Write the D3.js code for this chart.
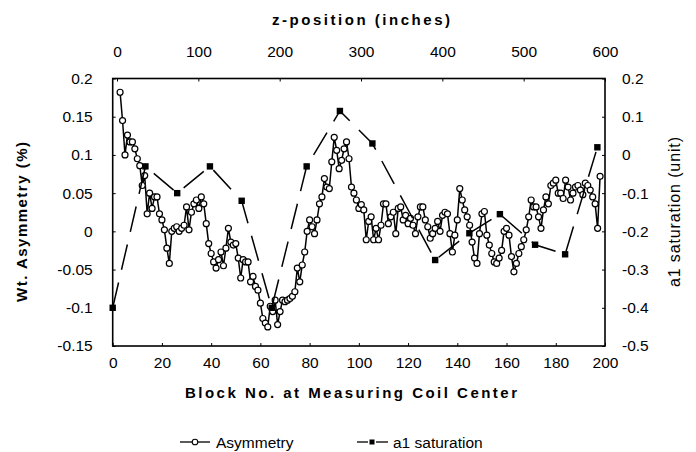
<!DOCTYPE html>
<html><head><meta charset="utf-8">
<script src="https://cdn.jsdelivr.net/npm/d3@7"></script>
<style>body{margin:0;background:#fff}svg{display:block}text{font-family:"Liberation Sans",Arial,sans-serif;fill:#000}</style>
</head><body><svg id="c" width="696" height="452"></svg>
<script>
// ---- data ----
const asymStartBlock = 3;
const asymmetry = [
  0.182,0.145,0.100,0.126,0.117,0.117,0.108,0.095,0.086,0.060,
  0.073,0.023,0.050,0.030,0.045,0.045,0.023,0.015,0.002,-0.022,
  -0.042,0.000,0.004,0.006,0.000,0.004,0.008,0.032,0.002,0.025,
  0.036,0.041,0.030,0.045,0.036,0.010,-0.016,-0.029,-0.040,-0.048,
  -0.037,-0.027,-0.045,-0.022,0.004,-0.014,-0.018,-0.016,-0.035,-0.061,
  -0.037,-0.040,-0.040,-0.066,-0.059,-0.072,-0.077,-0.094,-0.114,-0.120,
  -0.125,-0.098,-0.105,-0.090,-0.122,-0.105,-0.090,-0.092,-0.090,-0.088,
  -0.085,-0.079,-0.048,-0.066,-0.044,-0.027,0.000,0.015,0.006,-0.003,
  0.015,0.036,0.045,0.069,0.058,0.056,0.091,0.123,0.106,0.082,
  0.093,0.108,0.117,0.095,0.058,0.050,0.041,0.030,0.035,0.028,
  -0.011,0.013,0.019,-0.011,0.004,-0.011,0.008,0.036,0.036,0.010,
  0.019,0.025,-0.003,0.030,0.032,0.015,0.021,0.010,0.017,0.008,
  -0.003,0.019,0.032,0.032,0.015,0.006,-0.009,-0.003,0.004,0.013,
  0.000,0.021,0.025,0.023,-0.003,-0.027,-0.005,0.015,0.056,0.041,
  0.028,0.019,0.008,-0.014,-0.035,-0.042,-0.003,0.023,0.026,-0.005,
  -0.018,-0.029,-0.040,-0.042,-0.035,-0.025,0.000,0.004,-0.005,-0.033,
  -0.053,-0.042,-0.029,-0.020,-0.011,0.002,0.019,0.041,0.032,0.032,
  0.019,0.004,0.028,0.045,0.036,0.060,0.063,0.067,0.050,0.050,
  0.043,0.067,0.058,0.041,0.050,0.058,0.060,0.054,0.048,0.063,
  0.060,0.054,0.045,0.036,0.004,0.072
];
const a1Blocks = [0,13.3,26.2,39.5,52.4,64.6,78.8,92.3,105.5,131,144.9,157.3,171.6,183.8,196.9];
const a1Saturation = [-0.40,-0.03,-0.10,-0.03,-0.12,-0.40,-0.03,0.115,0.03,-0.275,-0.205,-0.155,-0.235,-0.26,0.02];
const blockTicks = [0,20,40,60,80,100,120,140,160,180,200];
const zTicks = [0,100,200,300,400,500,600];
const leftTicks = [0.2,0.15,0.1,0.05,0,-0.05,-0.1,-0.15];
const leftTickLabels = ["0.2","0.15","0.1","0.05","0","-0.05","-0.1","-0.15"];
const rightTicks = [0.2,0.1,0,-0.1,-0.2,-0.3,-0.4,-0.5];
const rightTickLabels = ["0.2","0.1","0","-0.1","-0.2","-0.3","-0.4","-0.5"];
const legendLabels = ["Asymmetry","a1 saturation"];

// ---- layout ----
const L = 112.7, R = 605, T = 78.5, B = 346;
const svg = d3.select("#c");
const x = d3.scaleLinear().domain([0,200]).range([L,R]);
const xz = d3.scaleLinear().domain([-5.3,600]).range([L,R]);
const yL = d3.scaleLinear().domain([-0.15,0.2]).range([B,T]);
const yR = d3.scaleLinear().domain([-0.5,0.2]).range([B,T]);
const FS = 15.5;

function styleAxis(g){
  g.select(".domain").remove();
  g.selectAll(".tick line").attr("stroke","#000").attr("stroke-width",1);
  g.selectAll(".tick text").attr("font-size",FS).attr("font-family",'"Liberation Sans",Arial,sans-serif').attr("fill","#000");
}

svg.append("g").attr("transform",`translate(0,${B})`)
  .call(d3.axisBottom(x).tickValues(blockTicks).tickFormat(d3.format("d")).tickSize(-3).tickPadding(11))
  .call(styleAxis);
svg.append("g").attr("transform",`translate(0,${T})`)
  .call(d3.axisTop(xz).tickValues(zTicks).tickFormat(d3.format("d")).tickSize(-3).tickPadding(22))
  .call(styleAxis);
svg.append("g").attr("transform",`translate(${L},0)`)
  .call(d3.axisLeft(yL).tickValues(leftTicks).tickFormat((d,i)=>leftTickLabels[i]).tickSize(-3).tickPadding(20))
  .call(styleAxis);
svg.append("g").attr("transform",`translate(${R},0)`)
  .call(d3.axisRight(yR).tickValues(rightTicks).tickFormat((d,i)=>rightTickLabels[i]).tickSize(-3).tickPadding(17))
  .call(styleAxis);

// frame
svg.append("rect").attr("x",L).attr("y",T).attr("width",R-L).attr("height",B-T)
  .attr("fill","none").attr("stroke","#000").attr("stroke-width",1.6);

// asymmetry series
const asymData = asymmetry.map((v,i)=>({b:asymStartBlock+i,v}));
svg.append("path").datum(asymData)
  .attr("d",d3.line().x(d=>x(d.b)).y(d=>yL(d.v)))
  .attr("fill","none").attr("stroke","#000").attr("stroke-width",1.5);
svg.append("g").selectAll("circle").data(asymData).join("circle")
  .attr("cx",d=>x(d.b)).attr("cy",d=>yL(d.v)).attr("r",3)
  .attr("fill","#fff").attr("stroke","#000").attr("stroke-width",1.2);

// a1 saturation series
const a1Data = a1Blocks.map((b,i)=>({b,v:a1Saturation[i]}));
svg.append("path").datum(a1Data)
  .attr("d",d3.line().x(d=>x(d.b)).y(d=>yR(d.v)))
  .attr("fill","none").attr("stroke","#000").attr("stroke-width",1.5)
  .attr("stroke-dasharray","26,13");
svg.append("g").selectAll("rect").data(a1Data).join("rect")
  .attr("x",d=>x(d.b)-3.2).attr("y",d=>yR(d.v)-3.2).attr("width",6.4).attr("height",6.4)
  .attr("fill","#000");

// titles
svg.append("text").attr("x",361).attr("y",25).attr("text-anchor","middle")
  .attr("font-size",15).attr("font-weight","bold")
  .attr("textLength",178).attr("lengthAdjust","spacing").text("z-position (inches)");
svg.append("text").attr("x",351).attr("y",398).attr("text-anchor","middle")
  .attr("font-size",15).attr("font-weight","bold")
  .attr("textLength",332).attr("lengthAdjust","spacing").text("Block No. at Measuring Coil Center");
svg.append("text").attr("transform","translate(27,222) rotate(-90)").attr("text-anchor","middle")
  .attr("font-size",15).attr("font-weight","bold")
  .attr("textLength",160).attr("lengthAdjust","spacing").text("Wt. Asymmetry (%)");
svg.append("text").attr("transform","translate(680,212) rotate(-90)").attr("text-anchor","middle")
  .attr("font-size",16)
  .attr("textLength",150).attr("lengthAdjust","spacing").text("a1 saturation (unit)");

// legend
const ly = 442;
const lg = svg.append("g");
lg.append("line").attr("x1",180).attr("x2",210).attr("y1",ly).attr("y2",ly).attr("stroke","#000").attr("stroke-width",1.3);
lg.append("circle").attr("cx",195).attr("cy",ly).attr("r",2.8).attr("fill","#fff").attr("stroke","#000").attr("stroke-width",1.1);
lg.append("text").attr("x",216).attr("y",ly+5.5).attr("font-size",FS).text(legendLabels[0]);
lg.append("line").attr("x1",357).attr("x2",368).attr("y1",ly).attr("y2",ly).attr("stroke","#000").attr("stroke-width",1.3);
lg.append("line").attr("x1",376).attr("x2",388).attr("y1",ly).attr("y2",ly).attr("stroke","#000").attr("stroke-width",1.3);
lg.append("rect").attr("x",369.5).attr("y",ly-2.5).attr("width",5).attr("height",5).attr("fill","#000");
lg.append("text").attr("x",393).attr("y",ly+5.5).attr("font-size",FS).text(legendLabels[1]);
</script></body></html>
